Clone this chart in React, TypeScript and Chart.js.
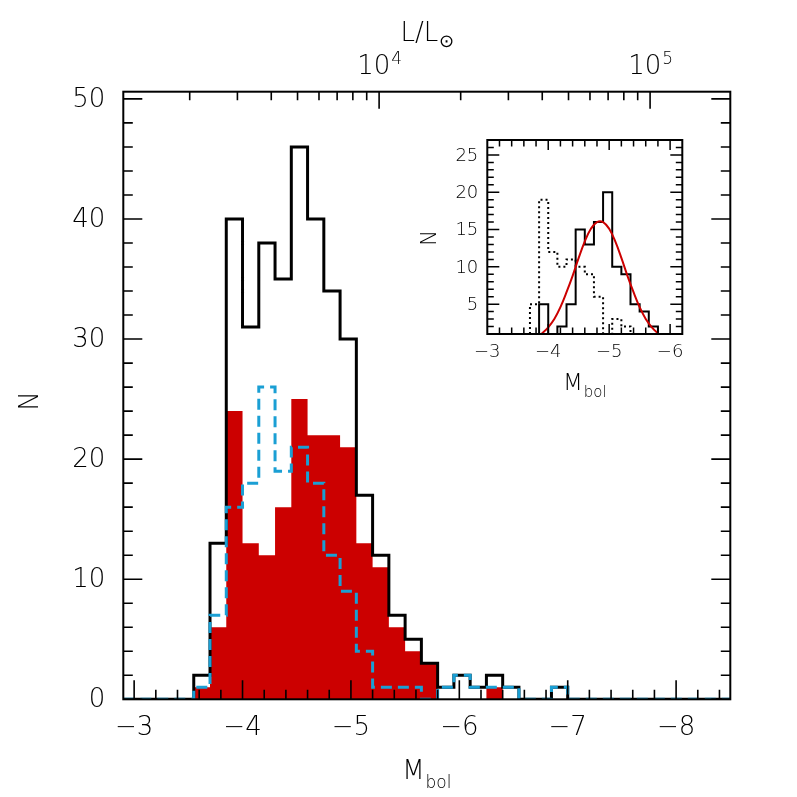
import React, { useEffect, useRef } from "react";
import { Chart, registerables } from "chart.js";

Chart.register(...registerables);

// ---------------- main histogram (bin starts in M_bol, width 0.15 mag) ----------------
const binWidth = 0.15;
const binStarts = [
  -3.55, -3.7, -3.85, -4.0, -4.15, -4.3, -4.45, -4.6, -4.75, -4.9, -5.05, -5.2,
  -5.35, -5.5, -5.65, -5.8, -5.95, -6.1, -6.25, -6.4, -6.55, -6.7, -6.85,
];
const allCounts = [2, 13, 40, 31, 38, 35, 46, 40, 34, 30, 17, 12, 7, 5, 3, 1, 2, 1, 2, 1, 0, 0, 1];
const redCounts = [1, 6, 24, 13, 12, 16, 25, 22, 22, 21, 13, 11, 6, 4, 3, 0, 0, 0, 1, 0, 0, 0, 0];
const blueCounts = [1, 7, 16, 18, 26, 19, 21, 18, 12, 9, 4, 1, 1, 1, 0, 1, 2, 1, 1, 1, 0, 0, 1];

const xTickLabels = [-3, -4, -5, -6, -7, -8];
const yTickLabels = [0, 10, 20, 30, 40, 50];
const lumMajor = [1e4, 1e5];
const lumMajorExp = ["4", "5"];
const lumMinor = [
  2000, 3000, 4000, 5000, 6000, 7000, 8000, 9000,
  20000, 30000, 40000, 50000, 60000, 70000, 80000, 90000, 200000,
];
const M_SUN = 4.74;

// ---------------- inset ----------------
const insetBinStarts = [
  -3.7, -3.85, -4.0, -4.15, -4.3, -4.45, -4.6, -4.75, -4.9, -5.05, -5.2, -5.35, -5.5, -5.65,
];
const insetSolid = [0, 5, 1, 2, 5, 15, 13, 16, 20, 10, 9, 5, 4, 2];
const insetDotted = [5, 19, 12, 10, 11, 10, 9, 6, 0, 3, 2, 0, 0, 0];
const fitM = [
  -3.85, -3.9, -4.0, -4.1, -4.2, -4.3, -4.4, -4.5, -4.6, -4.7, -4.8, -4.9, -5.0, -5.1,
  -5.2, -5.3, -5.4, -5.5, -5.6, -5.7, -5.8, -5.85,
];
const fitN = [
  0.8, 1.1, 1.9, 3.0, 4.6, 6.6, 8.8, 11.2, 13.4, 15.1, 16.0, 16.0, 15.1, 13.4,
  11.2, 8.8, 6.6, 4.6, 3.0, 1.9, 1.1, 0.8,
];
const insetXTicks = [-3, -4, -5, -6];
const insetYTicks = [5, 10, 15, 20, 25];

const FONT = "'DejaVu Sans', sans-serif";
const RED = "#cc0000";
const BLUE = "#1a9fd4";

function stepPoints(starts: number[], counts: number[], left: number, right: number) {
  const pts: { x: number; y: number }[] = [{ x: left, y: 0 }];
  starts.forEach((s, i) => pts.push({ x: s, y: counts[i] }));
  pts.push({ x: starts[starts.length - 1] - binWidth, y: 0 });
  pts.push({ x: right, y: 0 });
  return pts;
}

function minus(v: number) {
  return v < 0 ? "\u2212" + Math.abs(v) : String(v);
}

function text(ctx: CanvasRenderingContext2D, s: string, x: number, y: number, size: number, align: CanvasTextAlign, baseline: CanvasTextBaseline) {
  ctx.font = `200 ${size}px ${FONT}`;
  ctx.textAlign = align;
  ctx.textBaseline = baseline;
  ctx.fillText(s, x, y);
}

const mainAxes = {
  id: "mainAxes",
  afterDraw(chart: any) {
    const { ctx, chartArea: a, scales } = chart;
    const xs = scales.x;
    const ys = scales.y;
    ctx.save();
    ctx.strokeStyle = "#000";
    ctx.fillStyle = "#000";
    ctx.lineWidth = 1.6;
    ctx.beginPath();
    for (let v = 0; v <= 50; v += 2) {
      const y = ys.getPixelForValue(v);
      const len = v % 10 === 0 ? 19 : 9.5;
      ctx.moveTo(a.left, y);
      ctx.lineTo(a.left + len, y);
      ctx.moveTo(a.right, y);
      ctx.lineTo(a.right - len, y);
    }
    for (let k = 15; k <= 42; k++) {
      const x = xs.getPixelForValue(-k / 5);
      const len = k % 5 === 0 ? 19 : 9.5;
      ctx.moveTo(x, a.bottom);
      ctx.lineTo(x, a.bottom - len);
    }
    lumMinor.forEach((L) => {
      const m = M_SUN - 2.5 * Math.log10(L);
      if (m > -2.9 || m < -8.5) return;
      const x = xs.getPixelForValue(m);
      ctx.moveTo(x, a.top);
      ctx.lineTo(x, a.top + 8.5);
    });
    lumMajor.forEach((L) => {
      const x = xs.getPixelForValue(M_SUN - 2.5 * Math.log10(L));
      ctx.moveTo(x, a.top);
      ctx.lineTo(x, a.top + 17);
    });
    ctx.stroke();
    ctx.lineWidth = 2;
    ctx.strokeRect(a.left, a.top, a.right - a.left, a.bottom - a.top);

    yTickLabels.forEach((v) => text(ctx, String(v), a.left - 18, ys.getPixelForValue(v) + 1, 26, "right", "middle"));
    xTickLabels.forEach((v) => text(ctx, minus(v), xs.getPixelForValue(v), 728, 26, "center", "middle"));
    lumMajor.forEach((L, i) => {
      const x = xs.getPixelForValue(M_SUN - 2.5 * Math.log10(L));
      ctx.font = `200 26px ${FONT}`;
      const w1 = ctx.measureText("10").width;
      ctx.font = `200 17px ${FONT}`;
      const w2 = ctx.measureText(lumMajorExp[i]).width;
      const x0 = x - (w1 + w2) / 2;
      text(ctx, "10", x0, 74, 26, "left", "alphabetic");
      text(ctx, lumMajorExp[i], x0 + w1 + 1, 64, 17, "left", "alphabetic");
    });
    const cx = (a.left + a.right) / 2;
    ctx.font = `200 26px ${FONT}`;
    const wl = ctx.measureText("L/L").width;
    ctx.font = `200 18px ${FONT}`;
    const ws = ctx.measureText("\u2299").width;
    const lx = cx - (wl + ws) / 2;
    text(ctx, "L/L", lx, 41, 26, "left", "alphabetic");
    text(ctx, "\u2299", lx + wl + 1, 47, 18, "left", "alphabetic");
    ctx.font = `200 26px ${FONT}`;
    const wm = ctx.measureText("M").width;
    ctx.font = `200 17px ${FONT}`;
    const wb = ctx.measureText("bol").width;
    const mx = cx - (wm + wb + 1) / 2;
    text(ctx, "M", mx, 779, 26, "left", "alphabetic");
    text(ctx, "bol", mx + wm + 1, 788, 17, "left", "alphabetic");
    ctx.save();
    ctx.translate(31, 401);
    ctx.rotate(-Math.PI / 2);
    text(ctx, "N", 0, 0, 26, "center", "middle");
    ctx.restore();
    ctx.restore();
  },
};

const insetAxes = {
  id: "insetAxes",
  afterDraw(chart: any) {
    const { ctx, chartArea: a, scales } = chart;
    const xs = scales.x;
    const ys = scales.y;
    ctx.save();
    ctx.strokeStyle = "#000";
    ctx.fillStyle = "#000";
    ctx.lineWidth = 1.5;
    ctx.beginPath();
    for (let v = 2; v <= 26; v++) {
      const y = ys.getPixelForValue(v);
      const len = v % 5 === 0 ? 12 : 6.5;
      ctx.moveTo(a.left, y);
      ctx.lineTo(a.left + len, y);
      ctx.moveTo(a.right, y);
      ctx.lineTo(a.right - len, y);
    }
    for (let k = 16; k <= 30; k++) {
      const x = xs.getPixelForValue(-k / 5);
      const len = k % 5 === 0 ? 10 : 6.5;
      ctx.moveTo(x, a.bottom);
      ctx.lineTo(x, a.bottom - len);
      ctx.moveTo(x, a.top);
      ctx.lineTo(x, a.top + len);
    }
    ctx.stroke();
    ctx.lineWidth = 2;
    ctx.strokeRect(a.left, a.top, a.right - a.left, a.bottom - a.top);

    insetYTicks.forEach((v) => text(ctx, String(v), a.left - 9, ys.getPixelForValue(v) + 1, 18, "right", "middle"));
    insetXTicks.forEach((v) => text(ctx, minus(v), xs.getPixelForValue(v), a.bottom + 18, 18, "center", "middle"));
    const cx = (a.left + a.right) / 2;
    ctx.font = `200 23px ${FONT}`;
    const wm = ctx.measureText("M").width;
    ctx.font = `200 15px ${FONT}`;
    const wb = ctx.measureText("bol").width;
    const mx = cx - (wm + wb + 1) / 2;
    text(ctx, "M", mx, a.bottom + 56, 23, "left", "alphabetic");
    text(ctx, "bol", mx + wm + 1, a.bottom + 63, 15, "left", "alphabetic");
    ctx.save();
    ctx.translate(a.left - 57, (a.top + a.bottom) / 2 + 1);
    ctx.rotate(-Math.PI / 2);
    text(ctx, "N", 0, 0, 21, "center", "middle");
    ctx.restore();
    ctx.restore();
  },
};

function mainConfig(): any {
  return {
    type: "line",
    data: {
      datasets: [
        {
          data: stepPoints(binStarts, blueCounts, -2.9, -8.5),
          stepped: "before",
          borderColor: BLUE,
          borderWidth: 3,
          borderDash: [11, 6],
          fill: false,
          pointRadius: 0,
          borderJoinStyle: "miter",
        },
        {
          data: stepPoints(binStarts, allCounts, -2.9, -8.5),
          stepped: "before",
          borderColor: "#000",
          borderWidth: 3,
          fill: false,
          pointRadius: 0,
          borderJoinStyle: "miter",
        },
        {
          data: stepPoints(binStarts, redCounts, -2.9, -8.5),
          stepped: "before",
          borderColor: "rgba(0,0,0,0)",
          borderWidth: 0,
          backgroundColor: RED,
          fill: "origin",
          pointRadius: 0,
        },
      ],
    },
    options: {
      animation: false,
      responsive: false,
      devicePixelRatio: 1,
      layout: { padding: { left: 123.3, right: 66.7, top: 91.7, bottom: 97.7 } },
      scales: {
        x: { type: "linear", min: -8.5, max: -2.9, reverse: true, display: false },
        y: { type: "linear", min: 0, max: 50.6, display: false },
      },
      plugins: { legend: { display: false }, tooltip: { enabled: false } },
      elements: { point: { radius: 0 } },
    },
    plugins: [mainAxes],
  };
}

function insetConfig(): any {
  return {
    type: "line",
    data: {
      datasets: [
        {
          data: fitM.map((m, i) => ({ x: m, y: fitN[i] })),
          borderColor: RED,
          borderWidth: 2,
          tension: 0.4,
          fill: false,
          pointRadius: 0,
        },
        {
          data: stepPoints(insetBinStarts, insetSolid, -3, -6.2),
          stepped: "before",
          borderColor: "#000",
          borderWidth: 2,
          fill: false,
          pointRadius: 0,
          borderJoinStyle: "miter",
        },
        {
          data: stepPoints(insetBinStarts, insetDotted, -3, -6.2),
          stepped: "before",
          borderColor: "#000",
          borderWidth: 2,
          borderDash: [2, 3],
          fill: false,
          pointRadius: 0,
        },
      ],
    },
    options: {
      animation: false,
      responsive: false,
      devicePixelRatio: 1,
      layout: { padding: { left: 87.3, right: 17.7, top: 20, bottom: 76 } },
      scales: {
        x: { type: "linear", min: -6.2, max: -3, reverse: true, display: false },
        y: { type: "linear", min: 1, max: 27, display: false },
      },
      plugins: { legend: { display: false }, tooltip: { enabled: false } },
      elements: { point: { radius: 0 } },
    },
    plugins: [insetAxes],
  };
}

export default function App() {
  const mainRef = useRef<HTMLCanvasElement>(null);
  const insetRef = useRef<HTMLCanvasElement>(null);
  useEffect(() => {
    const c1 = new Chart(mainRef.current as HTMLCanvasElement, mainConfig());
    const c2 = new Chart(insetRef.current as HTMLCanvasElement, insetConfig());
    return () => {
      c1.destroy();
      c2.destroy();
    };
  }, []);
  return (
    <div style={{ position: "absolute", left: 0, top: 0, width: 797, height: 797, background: "#fff" }}>
      <canvas
        ref={mainRef}
        width={797}
        height={797}
        style={{ position: "absolute", left: 0, top: 0, width: 797, height: 797 }}
      />
      <canvas
        ref={insetRef}
        width={300}
        height={290}
        style={{ position: "absolute", left: 400, top: 120, width: 300, height: 290 }}
      />
    </div>
  );
}
